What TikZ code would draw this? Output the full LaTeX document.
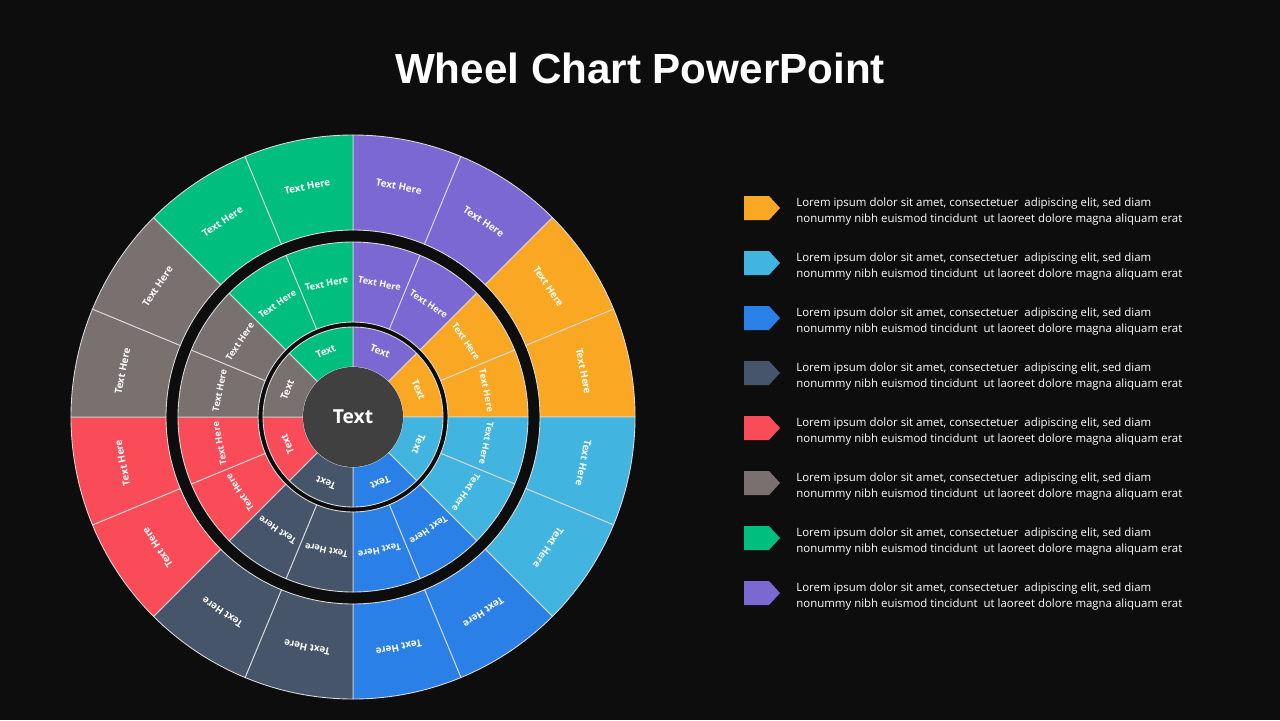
\documentclass[tikz,border=0pt]{standalone}
\usepackage{fontspec}
\setmainfont{Open Sans}
\newfontfamily\titlefont{Liberation Sans}
\definecolor{bg}{HTML}{0D0D0D}
\definecolor{cPurple}{HTML}{7B68D2}
\definecolor{cOrange}{HTML}{FAA823}
\definecolor{cCyan}{HTML}{41B4E0}
\definecolor{cBlue}{HTML}{2B80E8}
\definecolor{cSlate}{HTML}{465569}
\definecolor{cRed}{HTML}{F94B58}
\definecolor{cGray}{HTML}{797070}
\definecolor{cGreen}{HTML}{00BE7D}
\definecolor{cHub}{HTML}{404040}
\tikzset{
  seg/.style={draw=white!70!gray, line width=0.5pt},
  lbl/.style={text=white, font=\bfseries\fontsize{5.6}{6}\selectfont, inner sep=0pt},
  legtxt/.style={text=white, font=\fontsize{6.5}{9.1}\selectfont, align=left, anchor=west, inner sep=0pt}
}
% sector between radii #2 and #3, angles #4 to #5
\newcommand{\wsector}[5]{%
  \draw[seg, fill=#1] (#4:#2) arc[start angle=#4, end angle=#5, radius=#2]
    -- (#5:#3) arc[start angle=#5, end angle=#4, radius=#3] -- cycle;}
\begin{document}
\begin{tikzpicture}[x=0.02cm, y=0.02cm]
  \fill[bg] (0,0) rectangle (1280,-720);
  \useasboundingbox (0,0) rectangle (1280,-720);
  \node[text=white, font=\titlefont\bfseries\fontsize{24}{28}\selectfont] (title) at (640,-68) {Wheel Chart PowerPoint};
  \begin{scope}[shift={(353,-417)}]
    \foreach \c [count=\i from 0] in {cPurple,cOrange,cCyan,cBlue,cSlate,cRed,cGray,cGreen} {
      \pgfmathsetmacro{\a}{90-45*\i}
      \pgfmathsetmacro{\b}{\a-22.5}
      \pgfmathsetmacro{\e}{\a-45}
      % outer and middle rings
      \wsector{\c}{187}{282}{\a}{\b}
      \wsector{\c}{187}{282}{\b}{\e}
      \wsector{\c}{95}{175}{\a}{\b}
      \wsector{\c}{95}{175}{\b}{\e}
      % inner ring
      \wsector{\c}{50}{90}{\a}{\e}
      \pgfmathsetmacro{\ma}{\a-11.25}
      \pgfmathsetmacro{\mb}{\a-33.75}
      \pgfmathsetmacro{\mi}{\a-22.5}
      \node[lbl, rotate=\ma-90] (oa\i) at (\ma:235) {Text Here};
      \node[lbl, rotate=\mb-90] (ob\i) at (\mb:235) {Text Here};
      \node[lbl, rotate=\ma-90, font=\bfseries\fontsize{5.2}{6}\selectfont] (ma\i) at (\ma:136) {Text Here};
      \node[lbl, rotate=\mb-90, font=\bfseries\fontsize{5.2}{6}\selectfont] (mb\i) at (\mb:136) {Text Here};
      \node[lbl, rotate=\mi-90] (in\i) at (\mi:71) {Text};
    }
    \fill[cHub] (0,0) circle[radius=50];
    \node[text=white, font=\bfseries\fontsize{11}{13}\selectfont] (hub) at (0,0) {Text};
  \end{scope}
  % legend
  \foreach \c [count=\i from 0] in {cOrange,cCyan,cBlue,cSlate,cRed,cGray,cGreen,cPurple} {
    \pgfmathsetmacro{\yy}{-208-55*\i}
    \fill[\c] (744,\yy+12) -- (769,\yy+12) -- (780,\yy) -- (769,\yy-12) -- (744,\yy-12) -- cycle;
    \node[legtxt] (leg\i) at (796,\yy-4) {Lorem ipsum dolor sit amet, consectetuer\ \ adipiscing elit, sed diam\\nonummy nibh euismod tincidunt\ \ ut laoreet dolore magna aliquam erat};
  }
\end{tikzpicture}
\end{document}
